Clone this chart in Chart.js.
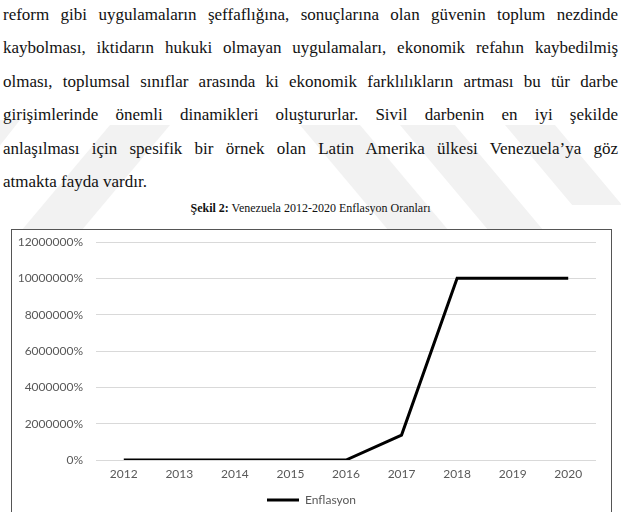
<!DOCTYPE html>
<html lang="tr">
<head>
<meta charset="utf-8">
<script src="https://cdn.jsdelivr.net/npm/chart.js@4"></script>
<style>
  html, body { margin: 0; padding: 0; background: #fff; }
  body { width: 621px; height: 512px; position: relative; overflow: hidden; }
  .wm { position: absolute; background: #f2f2f2; transform-origin: 0 0; }
  .para { position: absolute; left: 3px; top: 5px; width: 615px; font-size: 17px; color: #111; }
  .para div { height: 33.4px; text-align: justify; text-align-last: justify; white-space: nowrap; }
  .para div.last { text-align-last: left; }
  .caption { position: absolute; top: 201px; left: 0; width: 621px; text-align: center;
    font-size: 12px; color: #111; }
  .box { position: absolute; left: 11px; top: 229px; width: 599px; height: 300px;
    border: 1px solid #555; background: #fff; }
  .box canvas { display: block; }
  #probe { position: absolute; left: -9999px; top: 0; white-space: nowrap; font-size: 40px; }
</style>
</head>
<body>
<div class="wm" style="left:-40px;top:120px;width:60px;height:170px;transform:skewX(-38deg);"></div>
<div class="wm" style="left:110px;top:125px;width:60px;height:110px;transform:skewX(-40deg);"></div>
<div class="wm" style="left:300px;top:125px;width:60px;height:105px;transform:skewX(40deg);"></div>
<div class="wm" style="left:400px;top:125px;width:55px;height:105px;transform:skewX(40deg);"></div>
<div class="wm" style="left:505px;top:125px;width:50px;height:80px;transform:skewX(40deg);"></div>

<div class="para" id="para">
  <div>reform gibi uygulamaların şeffaflığına, sonuçlarına olan güvenin toplum nezdinde</div>
  <div>kaybolması, iktidarın hukuki olmayan uygulamaları, ekonomik refahın kaybedilmiş</div>
  <div>olması, toplumsal sınıflar arasında ki ekonomik farklılıkların artması bu tür darbe</div>
  <div>girişimlerinde önemli dinamikleri oluştururlar. Sivil darbenin en iyi şekilde</div>
  <div>anlaşılması için spesifik bir örnek olan Latin Amerika ülkesi Venezuela’ya göz</div>
  <div class="last">atmakta fayda vardır.</div>
</div>
<div class="caption" id="caption"><b>Şekil 2:</b> Venezuela 2012-2020 Enflasyon Oranları</div>

<div class="box"><canvas id="chart" width="599" height="286"></canvas></div>
<span id="probe">mmmWWWiiilll ağıxyz</span>

<script>
  // veriler
  const years = ["2012", "2013", "2014", "2015", "2016", "2017", "2018", "2019", "2020"];
  const inflation = [21, 41, 62, 121, 254, 1370000, 10000000, 10000000, 10000000];
  const seriesName = "Enflasyon";
  const yMax = 12000000;
  const yStep = 2000000;

  // yüklü bir serif yazı tipi bul
  function pickSerif() {
    const probe = document.getElementById("probe");
    const names = ["Liberation Serif", "Tinos", "Times New Roman", "DejaVu Serif", "Noto Serif", "FreeSerif"];
    for (const name of names) {
      let same = true;
      for (const base of ["monospace", "sans-serif"]) {
        probe.style.fontFamily = base;
        const w0 = probe.getBoundingClientRect().width;
        probe.style.fontFamily = `"${name}", ${base}`;
        const w1 = probe.getBoundingClientRect().width;
        if (Math.abs(w1 - w0) > 0.5) same = false;
      }
      if (!same) return `"${name}", serif`;
    }
    return "serif";
  }
  const serif = pickSerif();
  document.getElementById("para").style.fontFamily = serif;
  document.getElementById("caption").style.fontFamily = serif;

  // satır taşarsa yazıyı biraz küçült
  const mctx = document.createElement("canvas").getContext("2d");
  document.querySelectorAll("#para div").forEach((line) => {
    let size = 17;
    const txt = line.textContent.trim();
    mctx.font = `${size}px ${serif}`;
    while (mctx.measureText(txt).width > 606 && size > 10) {
      size -= 0.25;
      mctx.font = `${size}px ${serif}`;
    }
    line.style.fontSize = size + "px";
  });

  const tickFont = { family: "Lato, 'Open Sans', sans-serif", size: 12 };

  new Chart(document.getElementById("chart"), {
    type: "line",
    data: {
      labels: years,
      datasets: [{
        label: seriesName,
        data: inflation,
        borderColor: "#000",
        backgroundColor: "#000",
        borderWidth: 3,
        pointRadius: 0,
        tension: 0,
        fill: false,
      }],
    },
    options: {
      responsive: false,
      animation: false,
      layout: { padding: { top: 12, right: 0, left: 0, bottom: 0 } },
      plugins: {
        legend: {
          position: "bottom",
          labels: {
            usePointStyle: true,
            pointStyle: "line",
            pointStyleWidth: 32,
            boxHeight: 10,
            color: "#595959",
            font: { family: "Lato, 'Open Sans', sans-serif", size: 12 },
            padding: 2,
          },
        },
        tooltip: { enabled: false },
      },
      scales: {
        x: {
          offset: true,
          grid: { display: false, drawTicks: false },
          border: { display: false },
          ticks: { color: "#595959", font: tickFont, padding: 7 },
          afterFit: (s) => { s.height = 32; },
        },
        y: {
          min: 0,
          max: yMax,
          ticks: {
            stepSize: yStep,
            color: "#595959",
            font: tickFont,
            padding: 13,
            callback: (v) => v + "%",
          },
          grid: { color: "#d9d9d9", lineWidth: 1, drawTicks: false },
          border: { display: false },
          afterFit: (s) => {
            s.width = 84;
            s.paddingTop = 7;
            s.paddingBottom = 7;
          },
        },
        // sağ boşluk için boş eksen
        yRight: {
          position: "right",
          grid: { display: false },
          border: { display: false },
          ticks: { display: false },
          afterFit: (s) => { s.width = 15; },
        },
      },
    },
  });
</script>
</body>
</html>
